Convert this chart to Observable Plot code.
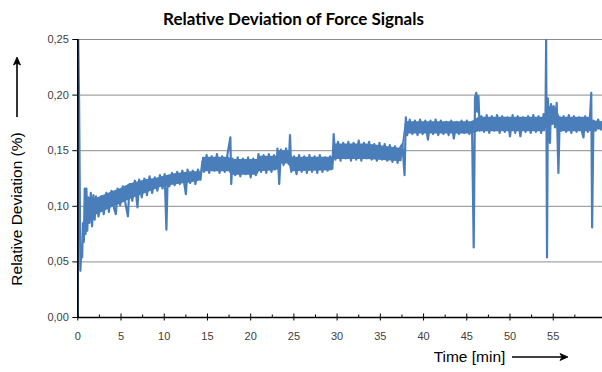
<!DOCTYPE html>
<html>
<head>
<meta charset="utf-8">
<script src="https://cdn.jsdelivr.net/npm/d3@7"></script>
<script src="https://cdn.jsdelivr.net/npm/@observablehq/plot@0.6"></script>
<style>
  html, body { margin: 0; padding: 0; background: #fff; }
  #chart { width: 602px; height: 372px; overflow: hidden; }
  #chart svg { font-family: "Liberation Sans", Arial, sans-serif !important; }
</style>
</head>
<body>
<div id="chart"></div>
<script>
// ---- Data ----
const titleText = "Relative Deviation of Force Signals";
const xTitle = "Time [min]";
const yTitle = "Relative Deviation (%)";

const xTicks = [0, 5, 10, 15, 20, 25, 30, 35, 40, 45, 50, 55];
const xMinorTicks = [2.5, 7.5, 12.5, 17.5, 22.5, 27.5, 32.5, 37.5, 42.5, 47.5, 52.5, 57.5];
const yTicks = [0, 0.05, 0.10, 0.15, 0.20, 0.25];

// time in minutes
const time = [
  0.00, 0.05, 0.15, 0.30, 0.40, 0.50, 0.60, 0.70, 0.80, 0.90, 1.00, 1.10, 1.20, 1.35, 1.50, 1.65, 1.80, 1.95, 2.10,
  2.40, 2.70, 3.00, 3.30, 3.60, 3.90, 4.20, 4.40, 4.60, 4.90, 5.20, 5.50, 5.80, 6.00, 6.30, 6.60, 6.90, 7.10, 7.40,
  7.70, 8.00, 8.30, 8.60, 8.90, 9.20, 9.50, 9.80, 10.05, 10.25, 10.40, 10.60, 10.90, 11.20, 11.50, 11.80, 12.10,
  12.50, 12.70, 13.00, 13.30, 13.60, 13.90, 14.20, 14.40, 14.60, 14.90, 15.20, 15.50, 15.80, 16.10, 16.40, 16.70,
  17.00, 17.30, 17.65, 17.75, 17.90, 18.20, 18.50, 18.80, 19.10, 19.40, 19.70, 20.00, 20.30, 20.60, 20.90, 21.20,
  21.50, 21.80, 22.10, 22.40, 22.70, 23.00, 23.10, 23.30, 23.50, 23.80, 24.10, 24.40, 24.55, 24.70, 25.00, 25.30,
  25.60, 25.90, 26.20, 26.50, 26.80, 27.10, 27.40, 27.70, 28.00, 28.30, 28.60, 28.90, 29.20, 29.45, 29.60, 29.80,
  30.10, 30.40, 30.70, 31.00, 31.30, 31.60, 31.90, 32.20, 32.50, 32.80, 33.10, 33.40, 33.70, 34.00, 34.30, 34.60,
  34.90, 35.20, 35.50, 35.80, 36.10, 36.40, 36.70, 37.00, 37.30, 37.55, 37.80, 37.95, 38.10, 38.40, 38.70, 39.00,
  39.30, 39.60, 39.90, 40.20, 40.50, 40.80, 41.10, 41.40, 41.70, 42.00, 42.30, 42.60, 42.90, 43.20, 43.50, 43.80,
  44.10, 44.40, 44.70, 45.00, 45.30, 45.60, 45.80, 45.95, 46.10, 46.20, 46.35, 46.50, 46.70, 47.00, 47.30, 47.60,
  47.90, 48.20, 48.50, 48.80, 49.10, 49.40, 49.70, 50.00, 50.30, 50.60, 50.90, 51.20, 51.50, 51.80, 52.10, 52.40,
  52.70, 53.00, 53.30, 53.60, 53.90, 54.10, 54.18, 54.28, 54.38, 54.50, 54.62, 54.75, 54.90, 55.05, 55.20, 55.40,
  55.60, 55.75, 55.90, 56.20, 56.50, 56.80, 57.10, 57.40, 57.70, 58.00, 58.30, 58.50, 58.70, 59.00, 59.25, 59.40,
  59.50, 59.65, 59.90, 60.20, 60.50, 60.70
];

// relative deviation in %
const deviation = [
  0.000, 0.250, 0.193, 0.042, 0.060, 0.054, 0.085, 0.068, 0.116, 0.075, 0.116, 0.078, 0.108, 0.085, 0.112, 0.082, 0.110, 0.088, 0.109,
  0.091, 0.109, 0.093, 0.112, 0.095, 0.114, 0.098, 0.093, 0.116, 0.101, 0.118, 0.103, 0.091, 0.120, 0.105, 0.123, 0.099, 0.124, 0.108,
  0.125, 0.110, 0.127, 0.112, 0.126, 0.114, 0.128, 0.116, 0.129, 0.079, 0.127, 0.118, 0.130, 0.119, 0.131, 0.120, 0.132,
  0.111, 0.133, 0.121, 0.132, 0.120, 0.133, 0.124, 0.140, 0.131, 0.146, 0.130, 0.145, 0.132, 0.147, 0.130, 0.145,
  0.131, 0.146, 0.162, 0.120, 0.143, 0.128, 0.144, 0.127, 0.143, 0.129, 0.144, 0.126, 0.143, 0.128, 0.147, 0.131,
  0.146, 0.130, 0.147, 0.131, 0.146, 0.134, 0.152, 0.120, 0.151, 0.137, 0.152, 0.138, 0.164, 0.131, 0.145, 0.129,
  0.146, 0.131, 0.145, 0.130, 0.146, 0.131, 0.145, 0.130, 0.146, 0.131, 0.144, 0.132, 0.145, 0.134, 0.165, 0.142,
  0.158, 0.141, 0.157, 0.143, 0.158, 0.141, 0.157, 0.142, 0.159, 0.141, 0.157, 0.143, 0.158, 0.142, 0.156, 0.141,
  0.157, 0.142, 0.156, 0.141, 0.155, 0.140, 0.154, 0.139, 0.153, 0.156, 0.128, 0.180, 0.164, 0.178, 0.165, 0.177,
  0.164, 0.178, 0.165, 0.177, 0.160, 0.177, 0.165, 0.178, 0.164, 0.177, 0.165, 0.176, 0.164, 0.177, 0.161, 0.176,
  0.165, 0.177, 0.166, 0.177, 0.165, 0.176, 0.063, 0.198, 0.202, 0.185, 0.199, 0.168, 0.181, 0.167, 0.182, 0.166,
  0.181, 0.168, 0.182, 0.166, 0.181, 0.167, 0.180, 0.163, 0.182, 0.166, 0.181, 0.163, 0.180, 0.167, 0.181, 0.166,
  0.182, 0.167, 0.181, 0.166, 0.183, 0.172, 0.250, 0.054, 0.197, 0.175, 0.157, 0.192, 0.174, 0.190, 0.171, 0.193,
  0.130, 0.180, 0.168, 0.181, 0.167, 0.182, 0.166, 0.181, 0.167, 0.180, 0.168, 0.162, 0.181, 0.167, 0.180, 0.202,
  0.081, 0.177, 0.168, 0.178, 0.169, 0.176
];

// solid core of the noisy signal band (lower / upper edge)
const bandTime = [0.80, 1.50, 2.10, 3.00, 4.00, 5.00, 6.00, 7.00, 8.00, 9.00, 10.00, 11.00, 12.00, 13.00, 14.25,
  14.45, 17.50, 17.80, 20.80, 21.00, 23.00, 23.15, 24.45, 24.65, 29.50, 29.70, 33.50, 37.50, 37.90, 45.60, 46.40, 54.10,
  54.40, 55.30, 55.80, 59.30, 59.60, 60.70];
const bandLow = [0.083, 0.086, 0.092, 0.095, 0.099, 0.102, 0.106, 0.109, 0.112, 0.115, 0.118, 0.119, 0.120, 0.121, 0.123,
  0.131, 0.131, 0.128, 0.128, 0.131, 0.132, 0.138, 0.138, 0.131, 0.132, 0.142, 0.142, 0.140, 0.165, 0.165, 0.167, 0.167,
  0.175, 0.174, 0.167, 0.167, 0.168, 0.169];
const bandHigh = [0.108, 0.108, 0.107, 0.110, 0.113, 0.116, 0.120, 0.122, 0.124, 0.125, 0.127, 0.129, 0.130, 0.131, 0.131,
  0.144, 0.144, 0.142, 0.142, 0.145, 0.145, 0.150, 0.150, 0.144, 0.144, 0.156, 0.156, 0.152, 0.176, 0.176, 0.180, 0.180,
  0.190, 0.189, 0.180, 0.180, 0.177, 0.176];

const series = time.map((t, i) => ({t, v: deviation[i]}));
const band = bandTime.map((t, i) => ({t, lo: bandLow[i], hi: bandHigh[i]}));
const fmtY = d => d.toFixed(2).replace(".", ",");

const W = 602, H = 372;
const mL = 77.3, mR = 0, mT = 39, mB = 55;
const AX = "'Liberation Sans', Arial, sans-serif";
const blue = "#4a7ebb";

const plot = Plot.plot({
  width: W,
  height: H,
  marginLeft: mL,
  marginRight: mR,
  marginTop: mT,
  marginBottom: mB,
  style: {fontFamily: AX, background: "#fff", overflow: "visible"},
  x: {domain: [0, 60.7]},
  y: {domain: [0, 0.25]},
  marks: [
    Plot.gridY(yTicks.filter(d => d > 0), {stroke: "#8c8c8c", strokeOpacity: 1, strokeWidth: 1}),
    Plot.areaY(band, {x: "t", y1: "lo", y2: "hi", fill: blue, clip: true}),
    Plot.line(series, {x: "t", y: "v", stroke: blue, strokeWidth: 2.2, strokeLinejoin: "round", clip: true}),
    Plot.ruleX([0], {stroke: "#000", strokeWidth: 1.6}),
    Plot.ruleY([0], {stroke: "#000", strokeWidth: 1.6}),
    Plot.axisY({ticks: yTicks, tickFormat: fmtY, tickSize: 5, tickPadding: 4, fontSize: 11, fontFamily: AX, color: "#404040", stroke: "#000", label: null}),
    Plot.axisX({ticks: xTicks, tickFormat: d => String(d), tickSize: 3.5, tickPadding: 11, fontSize: 11, fontFamily: AX, color: "#404040", stroke: "#000", label: null}),
    Plot.tickX(xTicks, {x: d => d, stroke: "#000", strokeWidth: 1, insetTop: 274.5}),
    Plot.tickX(xMinorTicks, {x: d => d, stroke: "#000", strokeWidth: 1, insetTop: 275.5}),
    Plot.text([titleText], {frameAnchor: "top", text: d => d, textAnchor: "middle", lineAnchor: "middle", dx: 293 - (mL + W) / 2, dy: -20, fontFamily: "Lato, 'Open Sans', sans-serif", fontWeight: "bold", fontSize: 17, fill: "#000"}),
    Plot.text([yTitle], {frameAnchor: "left", text: d => d, textAnchor: "middle", lineAnchor: "middle", rotate: -90, dx: 17 - mL, dy: 208.5 - (mT + H - mB) / 2, fontSize: 15.5, fontFamily: AX, fill: "#000"}),
    Plot.text([xTitle], {frameAnchor: "bottom", text: d => d, textAnchor: "middle", lineAnchor: "middle", dx: 469 - (mL + W) / 2, dy: 40, fontSize: 15.5, fontFamily: AX, fill: "#000"})
  ]
});

document.getElementById("chart").appendChild(plot);

// decorative arrows next to the axis titles
const svg = d3.select(plot);
const deco = svg.append("g").attr("fill", "#000").attr("stroke", "#000");
deco.append("line").attr("x1", 17).attr("x2", 17).attr("y1", 117).attr("y2", 62).attr("stroke-width", 1.6);
deco.append("path").attr("d", "M17,57 L13.5,65 L17,63 L20.5,65 Z").attr("stroke-width", 0.8);
deco.append("line").attr("x1", 512).attr("x2", 563).attr("y1", 357).attr("y2", 357).attr("stroke-width", 1.6);
deco.append("path").attr("d", "M568,357 L560,353.5 L562,357 L560,360.5 Z").attr("stroke-width", 0.8);
</script>
</body>
</html>
